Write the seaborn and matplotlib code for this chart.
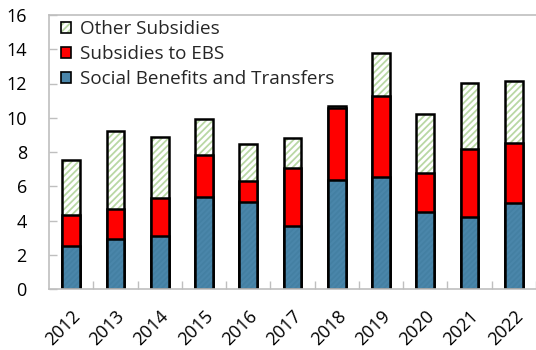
import matplotlib
matplotlib.use("Agg")
import matplotlib.pyplot as plt
from matplotlib.patches import Patch
import seaborn as sns
import pandas as pd

years = ["2012", "2013", "2014", "2015", "2016", "2017",
         "2018", "2019", "2020", "2021", "2022"]
social_benefits = [2.5, 2.9, 3.1, 5.4, 5.1, 3.7, 6.35, 6.55, 4.5, 4.2, 5.0]
subsidies_ebs = [1.85, 1.75, 2.2, 2.4, 1.2, 3.35, 4.2, 4.7, 2.3, 3.95, 3.5]
other_subsidies = [3.2, 4.6, 3.55, 2.15, 2.15, 1.75, 0.15, 2.55, 3.4, 3.9, 3.65]
legend_labels = ["Other Subsidies", "Subsidies to EBS", "Social Benefits and Transfers"]
y_ticks = [0, 2, 4, 6, 8, 10, 12, 14, 16]

BLUE = "#4a86aa"
BLUE_HATCH = "#4480a3"
RED = "#ff0000"
GREEN_HATCH = "#b9d8a4"
AXIS_GRAY = "#bfbfbf"
EDGE_LW = 1.8

sns.set_theme(style="white")
plt.rcParams["font.family"] = ["Open Sans", "DejaVu Sans"]
plt.rcParams["hatch.linewidth"] = 1.3

df = pd.DataFrame({
    "year": years,
    "social": social_benefits,
    "ebs": subsidies_ebs,
    "other": other_subsidies,
})
df["social_ebs"] = df["social"] + df["ebs"]
df["total"] = df["social_ebs"] + df["other"]

fig = plt.figure(figsize=(5.36, 3.5), dpi=100)
ax = fig.add_axes([49 / 536, 1 - 289 / 350, 1 - 49 / 536, 274 / 350])

BAR_W = 0.4


def layer(col, face, hatch=None, hatch_color=None, outline=False):
    sns.barplot(data=df, x="year", y=col, color=face if face != "none" else "white",
                saturation=1, width=BAR_W, errorbar=None, ax=ax)
    cont = ax.containers[-1]
    for p in cont:
        if outline:
            p.set_facecolor("none")
            p.set_edgecolor("black")
            p.set_linewidth(EDGE_LW)
            p.set_hatch(None)
        else:
            p.set_facecolor(face)
            p.set_hatch(hatch)
            p.set_edgecolor(hatch_color if hatch_color else face)
            p.set_linewidth(0)


# stacked segments drawn as overlapping cumulative bars
layer("total", "white", hatch="/////", hatch_color=GREEN_HATCH)
layer("total", "none", outline=True)
layer("social_ebs", RED)
layer("social_ebs", "none", outline=True)
layer("social", BLUE, hatch="//////", hatch_color=BLUE_HATCH)
layer("social", "none", outline=True)

ax.set_xlim(-0.5, -0.5 + 487 / 45)
ax.set_ylim(0, 16)
ax.set_yticks(y_ticks)
ax.set_xlabel("")
ax.set_ylabel("")

for side in ["left", "top", "bottom"]:
    ax.spines[side].set_visible(True)
    ax.spines[side].set_color(AXIS_GRAY)
    ax.spines[side].set_linewidth(1.2)
ax.spines["right"].set_visible(False)

ax.tick_params(axis="y", direction="in", length=6, width=1, color=AXIS_GRAY,
               pad=16, labelsize=13, labelcolor="black", left=True)
ax.tick_params(axis="x", which="major", length=0, pad=13, labelsize=13,
               labelcolor="black")
ax.set_xticks([i + 0.5 for i in range(len(years))], minor=True)
ax.tick_params(axis="x", which="minor", direction="in", length=6, width=1,
               color=AXIS_GRAY, bottom=True)
for lbl in ax.get_xticklabels():
    lbl.set_rotation(45)
    lbl.set_ha("right")
    lbl.set_va("top")
    lbl.set_rotation_mode("anchor")

handles = [
    (Patch(facecolor="white", edgecolor=GREEN_HATCH, hatch="/////", linewidth=0),
     Patch(facecolor="none", edgecolor="black", linewidth=1.2)),
    Patch(facecolor=RED, edgecolor="black", linewidth=1.2),
    Patch(facecolor=BLUE, edgecolor="black", linewidth=1.2),
]
ax.legend(handles, legend_labels, loc="upper left", bbox_to_anchor=(0.02, 0.987),
          frameon=False, fontsize=13.6, handlelength=0.55, handleheight=0.55,
          handletextpad=0.45, labelspacing=0.36, borderaxespad=0.0,
          borderpad=0.1)

fig.savefig("out.png", dpi=100)
